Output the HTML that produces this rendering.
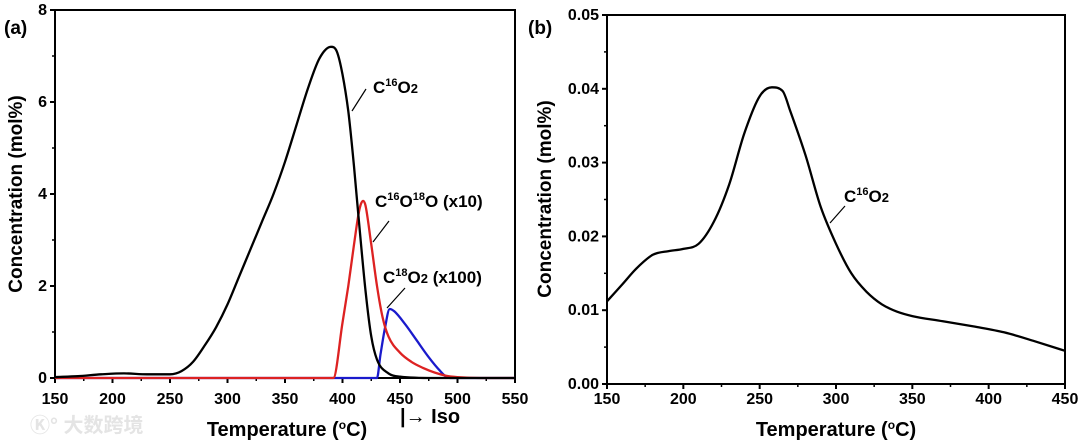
<!DOCTYPE html>
<html><head><meta charset="utf-8"><style>
body{margin:0;background:#fff;}
svg{display:block;font-family:"Liberation Sans",Arial,sans-serif;font-weight:bold;}
</style></head><body>
<svg id="fig" width="1080" height="442" viewBox="0 0 1080 442">
<text x="4" y="34" font-size="19">(a)</text>
<text x="528" y="34" font-size="19">(b)</text>
<text x="30" y="432" font-size="20" fill="#e4e4e4" font-family="'Liberation Sans','Noto Sans CJK SC',sans-serif">Ⓚ° 大数跨境</text>
<g id="ga"></g>
<g id="gb"></g>
</svg>
<script>
// Chart A data
const aT = [150,170,190,210,230,250,260,270,280,290,300,310,320,330,340,350,360,370,380,390,395,400,405,410,415,420,425,430,440,450,480,550];
const aCO2 = [0.02,0.04,0.08,0.1,0.08,0.08,0.15,0.35,0.7,1.1,1.6,2.2,2.8,3.4,4.0,4.7,5.5,6.3,6.95,7.2,7.1,6.6,5.8,4.6,3.2,1.9,0.9,0.4,0.1,0.03,0,0];
const aRedT = [150,392,400,405,410,415,418,420,425,430,435,440,450,460,470,480,490,500,520,550];
const aRed = [0,0,1.2,2.0,2.9,3.7,3.85,3.75,2.9,2.0,1.3,0.9,0.55,0.35,0.22,0.12,0.05,0.02,0,0];
const aBlueT = [150,430,433,437,441,445,455,465,475,485,490,495,550];
const aBlue = [0,0,0.5,1.1,1.5,1.45,1.15,0.8,0.45,0.15,0.03,0,0];
const aXTicks = [150,200,250,300,350,400,450,500,550];
const aYTicks = [0,2,4,6,8];
// Chart B data
const bT = [150,160,170,180,190,200,210,220,230,240,250,258,265,270,280,290,300,310,320,330,340,350,370,390,410,430,450];
const bCO2 = [0.0112,0.0135,0.0158,0.0175,0.018,0.0183,0.019,0.022,0.027,0.034,0.039,0.0402,0.0397,0.037,0.031,0.024,0.019,0.015,0.0125,0.0108,0.0098,0.0092,0.0085,0.0078,0.007,0.0058,0.0045];
const bXTicks = [150,200,250,300,350,400,450];
const bYTicks = ["0.00","0.01","0.02","0.03","0.04","0.05"];

const NS="http://www.w3.org/2000/svg";
function mk(parent,tag,attrs,text){const e=document.createElementNS(NS,tag);for(const k in attrs)e.setAttribute(k,attrs[k]);if(text!==undefined)e.textContent=text;parent.appendChild(e);return e;}

function axes(g,L,R,T,B,xmin,xmax,ymin,ymax,xt,yt,ytLabels){
  const sx=v=>L+(v-xmin)/(xmax-xmin)*(R-L), sy=v=>B-(v-ymin)/(ymax-ymin)*(B-T);
  const f=mk(g,'rect',{x:L,y:T,width:R-L,height:B-T,fill:'none',stroke:'#000','stroke-width':2});
  
  
  xt.forEach(v=>{
    const t=mk(g,'line',{x1:sx(v),x2:sx(v),y1:B,y2:B+5,stroke:'#000','stroke-width':2});
    
    
    const l=mk(g,'text',{x:sx(v),y:404,'font-size':16,'text-anchor':'middle'},String(v));
    
    
  });
  for(let i=0;i<xt.length-1;i++){const v=(xt[i]+xt[i+1])/2;
    const t=mk(g,'line',{x1:sx(v),x2:sx(v),y1:B,y2:B+3,stroke:'#000','stroke-width':1.5});
    
    }
  yt.forEach((v,i)=>{
    const t=mk(g,'line',{x1:L-5,x2:L,y1:sy(v),y2:sy(v),stroke:'#000','stroke-width':2});
    
    
    const l=mk(g,'text',{x:L-8,y:sy(v)+5,'font-size':16,'text-anchor':'end'},ytLabels[i]);
    
    
  });
  for(let i=0;i<yt.length-1;i++){const v=(yt[i]+yt[i+1])/2;
    const t=mk(g,'line',{x1:L-3,x2:L,y1:sy(v),y2:sy(v),stroke:'#000','stroke-width':1.5});
    
    }
  return [sx,sy];
}
// monotone cubic path
function line(g,xs,ys,sx,sy,color,name){
  const X=xs.map(sx),Y=ys.map(sy),n=X.length;
  const d=[],m=[];
  for(let i=0;i<n-1;i++)d.push((Y[i+1]-Y[i])/(X[i+1]-X[i]));
  m[0]=d[0];m[n-1]=d[n-2];
  for(let i=1;i<n-1;i++){m[i]=(d[i-1]*d[i]<=0)?0:(d[i-1]+d[i])/2;}
  for(let i=0;i<n-1;i++){
    if(d[i]===0){m[i]=0;m[i+1]=0;continue;}
    const a=m[i]/d[i],b=m[i+1]/d[i],s=a*a+b*b;
    if(s>9){const t=3/Math.sqrt(s);m[i]=t*a*d[i];m[i+1]=t*b*d[i];}
  }
  let p='M'+X[0].toFixed(1)+','+Y[0].toFixed(1);
  for(let i=0;i<n-1;i++){const h=(X[i+1]-X[i])/3;
    p+='C'+(X[i]+h).toFixed(1)+','+(Y[i]+m[i]*h).toFixed(1)+' '+(X[i+1]-h).toFixed(1)+','+(Y[i+1]-m[i+1]*h).toFixed(1)+' '+X[i+1].toFixed(1)+','+Y[i+1].toFixed(1);}
  const e=mk(g,'path',{d:p,fill:'none',stroke:color,'stroke-width':2.3,'stroke-linejoin':'round'});
  
  
}
function lab(g,x,y,html,name){
  const t=mk(g,'text',{x:x,y:y,'font-size':17});
  t.innerHTML=html;
  
  
}
function lead(g,x1,y1,x2,y2){
  const l=mk(g,'line',{x1,y1,x2,y2,stroke:'#000','stroke-width':1.2});
  
  
}
// Chart A
const ga=document.getElementById('ga');
const [ax,ay]=axes(ga,55,515,10,378,150,550,0,8,aXTicks,aYTicks,aYTicks.map(String));
line(ga,aBlueT,aBlue,ax,ay,'#1a1acc','series-c18o2');
line(ga,aRedT,aRed,ax,ay,'#dd2222','series-c16o18o');
line(ga,aT,aCO2,ax,ay,'#000','series-c16o2');
lab(ga,373,93,'C<tspan font-size="11" dy="-7">16</tspan><tspan dy="7">O</tspan><tspan font-size="13">2</tspan>','label-c16o2');
lead(ga,352,111,366,89);
lab(ga,375,207,'C<tspan font-size="11" dy="-7">16</tspan><tspan dy="7">O</tspan><tspan font-size="11" dy="-7">18</tspan><tspan dy="7">O (x10)</tspan>','label-c16o18o');
lead(ga,373,242,389,221);
lab(ga,383,283,'C<tspan font-size="11" dy="-7">18</tspan><tspan dy="7">O</tspan><tspan font-size="13">2</tspan> (x100)','label-c18o2');
lead(ga,387,308,405,288);
let t=mk(ga,'text',{x:287,y:436,'font-size':20,'text-anchor':'middle'});t.innerHTML='Temperature (<tspan font-size="12" dy="-7">o</tspan><tspan dy="7">C)</tspan>';


t=mk(ga,'text',{x:400,y:423,'font-size':20},'|→ Iso');


t=mk(ga,'text',{x:0,y:0,'font-size':19,'text-anchor':'middle',transform:'translate(22,194) rotate(-90)'},'Concentration (mol%)');


// Chart B
const gb=document.getElementById('gb');
const [bx,by]=axes(gb,607,1065,15,384,150,450,0,0.05,bXTicks,bYTicks.map(Number),bYTicks);
line(gb,bT,bCO2,bx,by,'#000','series-c16o2-b');
lab(gb,844,202,'C<tspan font-size="11" dy="-7">16</tspan><tspan dy="7">O</tspan><tspan font-size="13">2</tspan>','label-c16o2-b');
lead(gb,830,223,845,206);
t=mk(gb,'text',{x:836,y:436,'font-size':20,'text-anchor':'middle'});t.innerHTML='Temperature (<tspan font-size="12" dy="-7">o</tspan><tspan dy="7">C)</tspan>';


t=mk(gb,'text',{x:0,y:0,'font-size':19,'text-anchor':'middle',transform:'translate(551,199) rotate(-90)'},'Concentration (mol%)');


</script>
</body></html>
